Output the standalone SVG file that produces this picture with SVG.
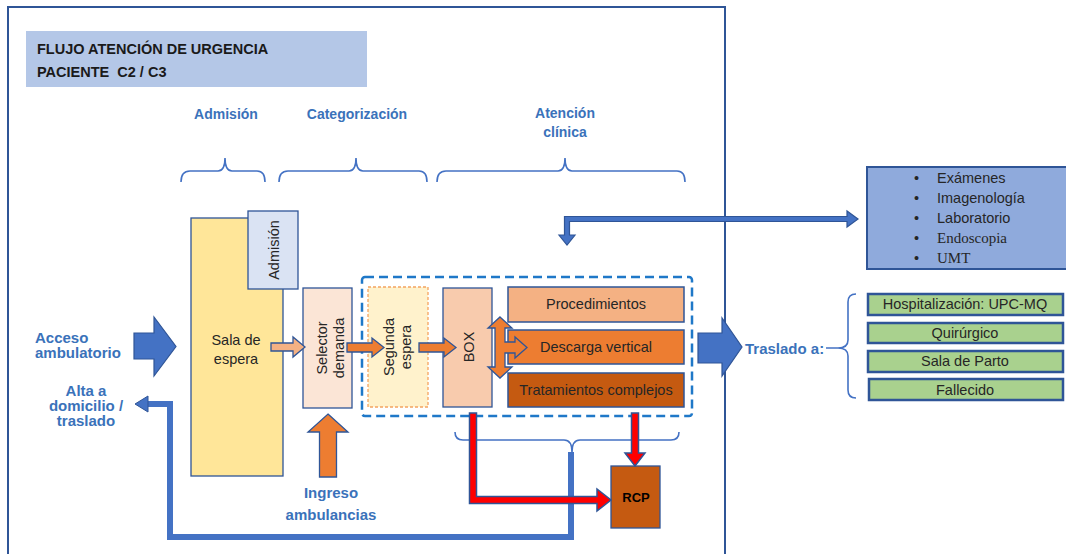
<svg xmlns="http://www.w3.org/2000/svg" width="1066" height="554" viewBox="0 0 1066 554">
<defs>
<style>
.lbl{font-family:"Liberation Sans",Arial,sans-serif;font-weight:bold;fill:#3A72BA}
.txt{font-family:"Liberation Sans",Arial,sans-serif;font-size:14.5px;fill:#262626}
.ser{font-family:"Liberation Serif","Times New Roman",serif;font-size:15px;fill:#262626}
.box{stroke:#2F5597;stroke-width:1.3}
.grn{fill:#A9D18E;stroke:#2F5597;stroke-width:2.5}
.brace{fill:none;stroke:#4472C4;stroke-width:1.6}
.barrow{fill:#4472C4;stroke:#2F5597;stroke-width:1.2}
.oarrow{stroke:#2F5597;stroke-width:1.3}
.rarrow{fill:#FF0000;stroke:#2F5597;stroke-width:1.5}
</style>
</defs>
<rect width="1066" height="554" fill="#FFFFFF"/>
<rect x="8" y="7" width="717" height="570" fill="none" stroke="#2F5597" stroke-width="2"/>

<g id="title">
<rect x="26" y="31" width="341" height="56" fill="#B4C7E7"/>
<text x="37" y="54" font-family="Liberation Sans,Arial,sans-serif" font-weight="bold" font-size="14.5" fill="#1a1a1a">FLUJO ATENCIÓN DE URGENCIA</text>
<text x="37" y="77" font-family="Liberation Sans,Arial,sans-serif" font-weight="bold" font-size="14.5" fill="#1a1a1a" xml:space="preserve">PACIENTE  C2 / C3</text>
</g>

<g id="section-labels">
<text class="lbl" x="226" y="119" font-size="14" text-anchor="middle">Admisión</text>
<text class="lbl" x="357" y="119" font-size="14" text-anchor="middle">Categorización</text>
<text class="lbl" x="565" y="118" font-size="14" text-anchor="middle">Atención</text>
<text class="lbl" x="565" y="137" font-size="14" text-anchor="middle">clínica</text>
<path class="brace" d="M181,182 Q181,171 190,171 H218 Q225,171 225,158 Q225,171 232,171 H257 Q265,171 265,182"/>
<path class="brace" d="M279,182 Q279,171 288,171 H349 Q356,171 356,158 Q356,171 363,171 H419 Q427,171 427,182"/>
<path class="brace" d="M437,182 Q437,171 446,171 H558 Q565,171 565,158 Q565,171 572,171 H677 Q685,171 685,182"/>
</g>

<g id="sala-espera">
<rect class="box" x="191" y="218" width="92" height="258" fill="#FFE699"/>
<text class="txt" x="236" y="345" text-anchor="middle">Sala de</text>
<text class="txt" x="236" y="364" text-anchor="middle">espera</text>
</g>

<g id="admision-box">
<rect class="box" x="248" y="211" width="50" height="78" fill="#DAE3F3"/>
<text class="txt" transform="translate(279,250) rotate(-90)" text-anchor="middle">Admisión</text>
</g>

<g id="selector">
<rect class="box" x="303" y="288" width="49" height="120" fill="#FBE5D6"/>
<text class="txt" transform="translate(327,348) rotate(-90)" text-anchor="middle"><tspan x="0" y="0">Selector</tspan><tspan x="0" y="17">demanda</tspan></text>
</g>

<g id="atencion-group">
<rect x="362" y="277" width="330" height="139" rx="3" fill="none" stroke="#1F78C8" stroke-width="2.5" stroke-dasharray="9 5"/>
</g>

<g id="segunda-espera">
<rect x="368" y="287" width="60" height="120" fill="#FFF2CC" stroke="#F4A460" stroke-width="1.3" stroke-dasharray="3 2"/>
<text class="txt" transform="translate(394,347) rotate(-90)" text-anchor="middle"><tspan x="0" y="0">Segunda</tspan><tspan x="0" y="17">espera</tspan></text>
</g>

<g id="box">
<rect class="box" x="443" y="288" width="49" height="119" fill="#F8CBAD"/>
<text class="txt" transform="translate(474,347) rotate(-90)" text-anchor="middle">BOX</text>
</g>

<g id="procedimientos">
<rect x="508" y="287" width="176" height="35" fill="#F4B183" stroke="#2F5597" stroke-width="1.5"/>
<text class="txt" x="596" y="309" text-anchor="middle">Procedimientos</text>
</g>
<g id="descarga">
<rect x="508" y="330" width="176" height="34" fill="#ED7D31" stroke="#2F5597" stroke-width="1.5"/>
<text class="txt" x="596" y="352" text-anchor="middle">Descarga vertical</text>
</g>
<g id="tratamientos">
<rect x="508" y="373" width="176" height="34" fill="#C55A11" stroke="#2F5597" stroke-width="1.5"/>
<text class="txt" x="596" y="395" text-anchor="middle" fill="#1a1a1a">Tratamientos complejos</text>
</g>

<g id="rcp">
<rect x="611" y="466" width="49" height="62" fill="#C55A11" stroke="#2F5597" stroke-width="1.3"/>
<text x="636" y="502" text-anchor="middle" font-family="Liberation Sans,Arial,sans-serif" font-weight="bold" font-size="13" fill="#000">RCP</text>
</g>

<g id="examenes">
<rect x="867" y="167" width="210" height="102" fill="#8FAADC" stroke="#2F5597" stroke-width="2"/>
<text class="txt" x="914" y="183">•</text>
<text class="txt" x="914" y="203">•</text>
<text class="txt" x="914" y="223">•</text>
<text class="txt" x="914" y="243">•</text>
<text class="txt" x="914" y="263">•</text>
<text class="txt" x="937" y="183" font-size="14">Exámenes</text>
<text class="txt" x="937" y="203" font-size="14">Imagenología</text>
<text class="txt" x="937" y="223" font-size="14">Laboratorio</text>
<text class="ser" x="937" y="243">Endoscopia</text>
<text class="ser" x="937" y="263">UMT</text>
</g>

<g id="destinos">
<rect class="grn" x="868" y="294" width="195" height="21"/>
<text class="txt" x="965" y="309" text-anchor="middle">Hospitalización: UPC-MQ</text>
<rect class="grn" x="868" y="323" width="195" height="20"/>
<text class="txt" x="965" y="338" text-anchor="middle">Quirúrgico</text>
<rect class="grn" x="868" y="351" width="195" height="21"/>
<text class="txt" x="965" y="366" text-anchor="middle">Sala de Parto</text>
<rect class="grn" x="869" y="379" width="194" height="21"/>
<text class="txt" x="965" y="395" text-anchor="middle">Fallecido</text>
</g>

<g id="side-labels">
<text class="lbl" x="35" y="343" font-size="15">Acceso</text>
<text class="lbl" x="35" y="358" font-size="15">ambulatorio</text>
<text class="lbl" x="86" y="396" font-size="15" text-anchor="middle">Alta a</text>
<text class="lbl" x="86" y="411" font-size="15" text-anchor="middle">domicilio /</text>
<text class="lbl" x="86" y="426" font-size="15" text-anchor="middle">traslado</text>
<text class="lbl" x="331" y="498" font-size="15" text-anchor="middle">Ingreso</text>
<text class="lbl" x="331" y="520" font-size="15" text-anchor="middle">ambulancias</text>
<text class="lbl" x="745" y="354" font-size="15">Traslado a:</text>
</g>

<g id="connectors">
<polygon class="barrow" points="134,333 154,333 154,317 176,346.5 154,376 154,359 134,359"/>
<polygon class="barrow" points="698,333 722,333 722,318 742,347 722,376 722,363 698,363"/>
<path class="brace" d="M826,348 H838 Q848,348 848,340 V302 Q848,294 856,294 M838,348 Q848,348 848,356 V390 Q848,398 856,398"/>
<path class="brace" d="M455,432 Q455,440 463,440 H564 Q572,440 572,452 Q572,440 580,440 H671 Q679,440 679,432"/>
<path d="M571,452 V537 H170 V404 H147" fill="none" stroke="#4472C4" stroke-width="6"/>
<polygon points="135,404 148,396 148,412" fill="#4472C4" stroke="#2F5597" stroke-width="1"/>
<polygon class="barrow" points="564.5,216.5 847,216.5 847,211 858,219 847,227 847,221.5 569.5,221.5 569.5,235 575,235 567,245 559,235 564.5,235"/>
<polygon class="oarrow" fill="#F4B183" points="271,343 293,343 293,337 305,347 293,357 293,351 271,351"/>
<polygon class="oarrow" fill="#ED7D31" points="347,343 372,343 372,338 384,347.5 372,357 372,352 347,352"/>
<polygon class="oarrow" fill="#ED7D31" points="419,343 444,343 444,338 456,347.5 444,357 444,352 419,352"/>
<polygon class="oarrow" fill="#ED7D31" points="500,317 512,328 505,328 505,342 515,342 515,337 527,347.5 515,358 515,353 505,353 505,367 512,367 500,378 488,367 495,367 495,328 488,328"/>
<polygon class="oarrow" fill="#ED7D31" points="328,414 348,432 336.5,432 336.5,477 319.5,477 319.5,432 308,432"/>
<polygon class="rarrow" points="469.5,413 476.5,413 476.5,496.5 597,496.5 597,489 611,500 597,511 597,503.5 469.5,503.5"/>
<polygon class="rarrow" points="631.5,413 638.5,413 638.5,453 645,453 635,466 625,453 631.5,453"/>
</g>
</svg>
